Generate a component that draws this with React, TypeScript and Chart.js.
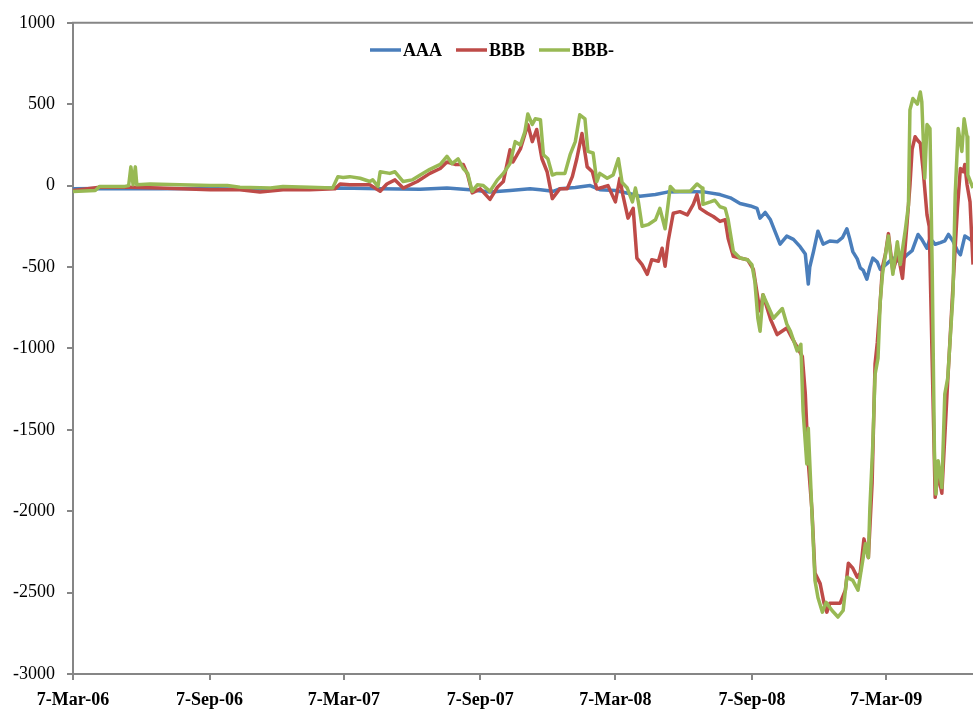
import React, { useEffect, useRef } from "react";
import { Chart, registerables } from "chart.js";

Chart.register(...registerables);

// x values: days after 7-Mar-06
const tickDays = [0, 184, 365, 549, 731, 915, 1096];
const tickLabels = ["7-Mar-06", "7-Sep-06", "7-Mar-07", "7-Sep-07", "7-Mar-08", "7-Sep-08", "7-Mar-09"];
const seriesNames = ["AAA", "BBB", "BBB-"];
const seriesColors = ["#4A7EBB", "#BE4B48", "#98B954"];

const aaaDays = [0,36,77,117,171,239,306,360,414,468,504,535,562,589,616,630,647,656,677,697,710,731,751,764,785,801,818,836,852,872,886,899,913,922,926,933,940,946,953,962,971,980,987,991,993,998,1004,1011,1020,1030,1037,1043,1047,1051,1057,1061,1065,1070,1074,1078,1084,1088,1097,1105,1115,1124,1131,1139,1144,1151,1155,1162,1169,1175,1180,1186,1192,1196,1202,1209,1213];
const aaaValues = [-20,-18,-20,-20,-18,-22,-18,-15,-20,-22,-15,-25,-40,-30,-20,-25,-35,-20,-12,0,-25,-30,-50,-65,-55,-40,-38,-37,-40,-55,-75,-110,-125,-140,-200,-165,-210,-280,-360,-310,-330,-375,-420,-605,-500,-405,-280,-360,-340,-345,-320,-265,-330,-405,-450,-505,-520,-575,-500,-445,-470,-515,-480,-445,-470,-425,-400,-300,-330,-385,-325,-360,-350,-340,-300,-340,-400,-425,-310,-330,-345];

const bbbDays = [0,36,77,117,185,225,252,283,319,353,360,373,400,414,423,434,445,464,481,495,504,515,526,532,538,549,562,572,580,589,593,603,613,619,625,632,639,646,656,666,673,679,686,693,700,706,714,721,731,737,741,748,755,760,767,774,780,789,794,798,802,809,818,828,836,841,845,855,863,872,879,883,890,899,909,917,923,926,930,940,949,962,969,977,983,987,991,996,1000,1007,1012,1016,1020,1034,1041,1045,1051,1057,1061,1066,1072,1077,1081,1084,1088,1091,1095,1099,1105,1112,1118,1124,1128,1131,1135,1138,1142,1146,1151,1154,1158,1162,1166,1171,1178,1185,1192,1196,1200,1202,1205,1209,1213];
const bbbValues = [-30,-10,-10,-15,-25,-25,-40,-25,-25,-20,10,5,5,-35,10,35,-15,25,75,105,145,130,130,65,-45,-20,-85,-10,25,220,145,225,375,270,345,165,85,-80,-20,-20,55,165,320,115,85,-20,-10,0,-100,45,-55,-200,-140,-445,-485,-545,-455,-465,-385,-495,-345,-170,-160,-180,-115,-55,-140,-170,-190,-220,-210,-325,-435,-445,-455,-515,-690,-770,-670,-820,-915,-875,-935,-1000,-1050,-1280,-1700,-2000,-2380,-2445,-2560,-2620,-2565,-2565,-2485,-2320,-2350,-2405,-2380,-2170,-2285,-1830,-1095,-965,-710,-500,-420,-295,-525,-420,-570,-240,0,225,300,280,260,85,-180,-250,-1080,-1915,-1770,-1890,-1280,-700,-140,105,85,130,5,-100,-485];

const bbbMinusDays = [0,30,36,70,75,78,81,84,86,104,144,185,208,225,266,283,319,350,357,364,373,387,400,404,411,414,427,434,445,457,468,481,495,504,511,519,526,532,538,545,553,562,572,580,589,596,603,609,613,619,623,630,634,640,646,652,663,670,677,683,690,694,701,706,710,720,728,735,740,747,754,758,762,767,775,785,791,798,805,811,822,832,841,848,849,859,865,872,879,883,890,899,909,915,919,923,926,930,944,956,962,967,976,981,984,989,991,996,1000,1004,1010,1015,1023,1031,1038,1043,1051,1058,1061,1068,1072,1074,1078,1081,1085,1088,1091,1095,1099,1105,1111,1115,1122,1126,1128,1132,1138,1142,1144,1148,1151,1155,1158,1161,1163,1166,1171,1175,1179,1186,1189,1193,1198,1201,1205,1206,1213];
const bbbMinusValues = [-37,-30,-5,-5,0,115,5,115,5,10,5,0,0,-10,-15,-5,-10,-15,55,50,55,45,25,35,-5,85,75,85,25,35,65,100,130,180,135,165,105,75,-35,5,0,-35,35,75,135,270,250,330,440,375,410,405,190,165,65,75,75,190,270,435,410,210,200,25,75,45,65,165,20,-15,-100,-15,-100,-250,-240,-210,-140,-265,-5,-35,-35,-35,10,-15,-115,-100,-90,-130,-140,-210,-405,-445,-455,-485,-590,-815,-895,-670,-815,-755,-850,-895,-1015,-975,-1385,-1710,-1490,-2015,-2425,-2530,-2620,-2560,-2610,-2650,-2610,-2405,-2425,-2485,-2400,-2200,-2285,-1980,-1585,-1160,-1060,-710,-545,-425,-310,-545,-345,-485,-265,-120,465,535,500,575,515,45,375,350,-510,-1630,-1895,-1690,-1855,-1280,-1180,-670,-55,350,210,410,300,65,-15];

const xMax = 1213;
const yMin = -3000;
const yMax = 1000;
const yStep = 500;

const FONT = "'Liberation Serif', 'Times New Roman', serif";
const AXIS_GREY = "#868686";

function pairs(days: number[], values: number[]) {
  return days.map((d, i) => ({ x: d, y: values[i] }));
}

const frameAndLegend = {
  id: "frameAndLegend",
  afterDraw(chart: any) {
    const { ctx, chartArea } = chart;
    ctx.save();
    // top border of plot area
    ctx.strokeStyle = AXIS_GREY;
    ctx.lineWidth = 2;
    ctx.beginPath();
    ctx.moveTo(chartArea.left - 1, chartArea.top);
    ctx.lineTo(chartArea.right, chartArea.top);
    ctx.stroke();
    // legend
    ctx.font = `bold 18px ${FONT}`;
    ctx.textBaseline = "middle";
    ctx.textAlign = "left";
    let x = 370;
    const y = 50;
    seriesNames.forEach((name, i) => {
      ctx.strokeStyle = seriesColors[i];
      ctx.lineWidth = 3.5;
      ctx.beginPath();
      ctx.moveTo(x, y);
      ctx.lineTo(x + 31, y);
      ctx.stroke();
      ctx.fillStyle = "#000";
      ctx.fillText(name, x + 33, y + 1);
      x += 33 + ctx.measureText(name).width + 14;
    });
    ctx.restore();
  },
};

export default function App() {
  const canvasRef = useRef<HTMLCanvasElement | null>(null);

  useEffect(() => {
    if (!canvasRef.current) return;
    const seriesData = [
      pairs(aaaDays, aaaValues),
      pairs(bbbDays, bbbValues),
      pairs(bbbMinusDays, bbbMinusValues),
    ];
    const chart = new Chart(canvasRef.current, {
      type: "line",
      data: {
        datasets: seriesNames.map((name, i) => ({
          label: name,
          data: seriesData[i],
          borderColor: seriesColors[i],
          backgroundColor: seriesColors[i],
          borderWidth: 3.5,
          pointRadius: 0,
          tension: 0,
          borderJoinStyle: "round" as const,
          order: 3 - i,
        })),
      },
      options: {
        responsive: false,
        animation: false,
        devicePixelRatio: 1,
        layout: { padding: { top: 21, right: 0, left: 0, bottom: 0 } },
        plugins: { legend: { display: false }, tooltip: { enabled: false } },
        scales: {
          x: {
            type: "linear",
            min: 0,
            max: xMax,
            afterBuildTicks: (scale: any) => {
              scale.ticks = tickDays.map((v) => ({ value: v }));
            },
            afterFit: (scale: any) => {
              scale.height = 42;
            },
            ticks: {
              autoSkip: false,
              maxRotation: 0,
              color: "#000",
              padding: 10,
              font: { family: FONT, size: 18, weight: "bold" },
              callback: (v: any) => {
                const idx = tickDays.indexOf(Number(v));
                return idx >= 0 ? tickLabels[idx] : "";
              },
            },
            grid: { drawOnChartArea: false, drawTicks: true, tickLength: 6, color: AXIS_GREY, lineWidth: 2 },
            border: { display: true, color: AXIS_GREY, width: 2 },
          },
          y: {
            min: yMin,
            max: yMax,
            afterFit: (scale: any) => {
              scale.width = 73;
            },
            ticks: {
              stepSize: yStep,
              color: "#000",
              padding: 12,
              font: { family: FONT, size: 18 },
              callback: (v: any) => String(v),
            },
            grid: { drawOnChartArea: false, drawTicks: true, tickLength: 6, color: AXIS_GREY, lineWidth: 2 },
            border: { display: true, color: AXIS_GREY, width: 2 },
          },
        },
      },
      plugins: [frameAndLegend],
    });
    return () => chart.destroy();
  }, []);

  return (
    <div style={{ position: "absolute", left: 0, top: 0, width: 973, height: 716, background: "#fff" }}>
      <canvas ref={canvasRef} width={973} height={716} />
    </div>
  );
}
